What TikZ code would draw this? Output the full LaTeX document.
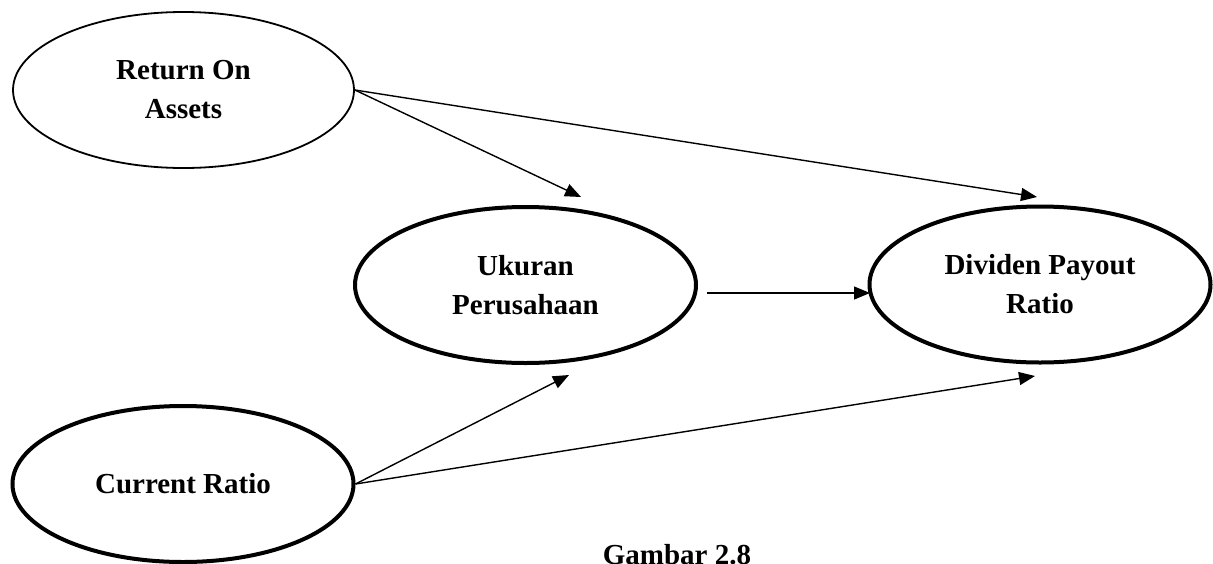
\documentclass[tikz,border=0pt]{standalone}
\usepackage{fontspec}
\setmainfont{Liberation Serif}
\usetikzlibrary{arrows.meta,calc,shapes.geometric}
\tikzset{
  var/.style={ellipse, draw=black, inner sep=0pt, minimum width=341pt, minimum height=156pt,
    align=center, font=\bfseries\fontsize{29}{39}\selectfont},
  lightline/.style={line width=1.8pt},
  heavyline/.style={line width=4pt},
  arr/.style={line width=1.4pt, -{Triangle[length=16pt,width=13pt]}},
  captext/.style={font=\bfseries\fontsize{29}{39}\selectfont, inner sep=0pt, anchor=base}
}
\begin{document}
\begin{tikzpicture}[x=1pt,y=-1pt]
\useasboundingbox (0,0) rectangle (1213,563);
\node[var,lightline] (roa) at (183.5,90) {Return On\\Assets};
\node[var,heavyline] (uk) at (525.5,285) {Ukuran\\Perusahaan};
\node[var,heavyline] (dp) at (1040,284.5) {Dividen Payout\\Ratio};
\node[var,heavyline] (cr) at (183,484) {Current Ratio};
\coordinate (t1) at (581,197);
\coordinate (t2) at (1037,197);
\coordinate (t4) at (569,375);
\coordinate (t5) at (1035,376);
\coordinate (s3) at (707,293);
\coordinate (t3) at (870,293);
\draw[arr] (roa.east) -- (t1);
\draw[arr] (roa.east) -- (t2);
\draw[arr] (s3) -- (t3);
\draw[arr] (cr.east) -- (t4);
\draw[arr] (cr.east) -- (t5);
\node[captext] (cap) at (677,564) {Gambar 2.8};
\end{tikzpicture}
\end{document}
